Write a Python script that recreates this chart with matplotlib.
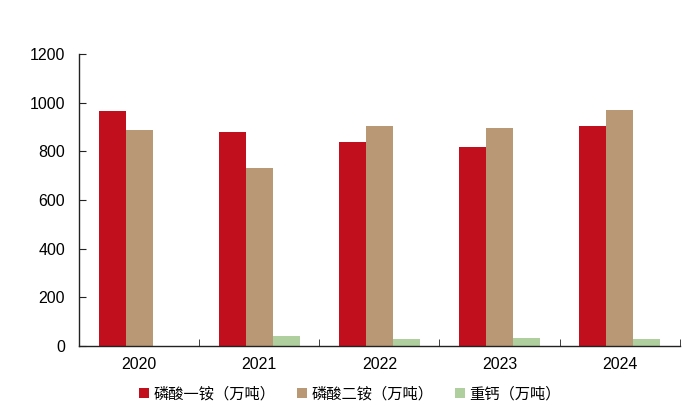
import matplotlib
matplotlib.use("Agg")
import matplotlib.pyplot as plt
import numpy as np
from matplotlib.patches import Patch

years = ["2020", "2021", "2022", "2023", "2024"]
map_vals = [968, 880, 838, 818, 905]     # 磷酸一铵
dap_vals = [887, 731, 903, 895, 972]     # 磷酸二铵
tsp_vals = [0, 42, 28, 33, 28]           # 重钙
labels = ["磷酸一铵（万吨）", "磷酸二铵（万吨）", "重钙（万吨）"]
colors = ["#C20F1E", "#B99875", "#AFCF9E"]

plt.rcParams['font.family'] = ['Liberation Sans', 'Noto Sans CJK SC', 'DejaVu Sans']

fig = plt.figure(figsize=(7, 4.2), dpi=100)
ax = fig.add_axes([0.113, 0.176, 0.858, 0.695])

x = np.arange(len(years))
w = 0.225
for i, (vals, c) in enumerate(zip([map_vals, dap_vals, tsp_vals], colors)):
    ax.bar(x + (i - 1) * w, vals, width=w, color=c, edgecolor='none')

ax.set_xlim(-0.5, len(years) - 0.5)
ax.set_ylim(0, 1200)
ax.set_yticks(range(0, 1201, 200))
ax.tick_params(axis='y', direction='in', length=5, labelsize=11.5, pad=10, color='#222222')
ax.set_xticks(x)
ax.set_xticklabels(years)
ax.tick_params(axis='x', length=0, labelsize=11.5, pad=8)
ax.set_xticks(np.arange(-0.5, len(years)), minor=True)
ax.tick_params(axis='x', which='minor', direction='in', length=5, color='#222222')
for s in ['top', 'right']:
    ax.spines[s].set_visible(False)
for s in ['left', 'bottom']:
    ax.spines[s].set_color('#222222')
    ax.spines[s].set_linewidth(1.0)

handles = [Patch(facecolor=c, edgecolor='none') for c in colors]
fig.legend(handles, labels, loc='center', bbox_to_anchor=(0.5, 0.062), ncol=3,
           frameon=False, handlelength=0.65, handleheight=0.65, handletextpad=0.3,
           columnspacing=1.4, prop={'family': ['Noto Sans CJK SC', 'DejaVu Sans'], 'size': 11})

fig.savefig("out.png", dpi=100, facecolor='white')
